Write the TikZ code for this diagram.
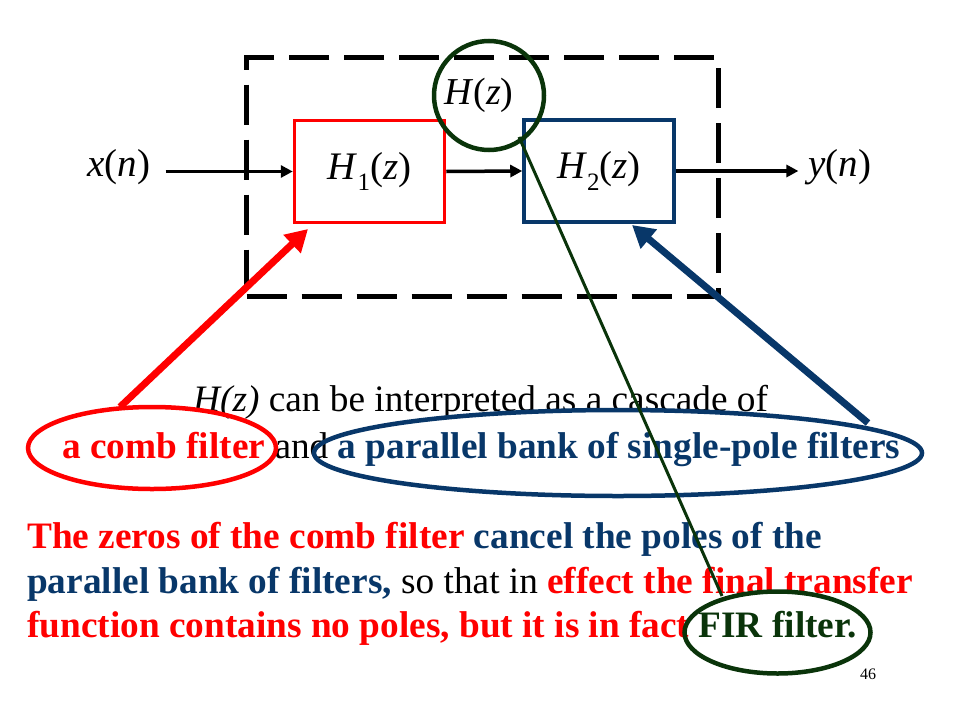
\documentclass[tikz,border=0pt]{standalone}
\usepackage{fontspec}
\setmainfont{Liberation Serif}
\usetikzlibrary{arrows.meta,shapes.geometric}
\definecolor{myred}{RGB}{255,0,0}
\definecolor{myblue}{RGB}{8,55,105}
\definecolor{mygreen}{RGB}{10,52,10}
\newcommand{\bigtxt}{\fontsize{37.3}{44.8}\selectfont}
\newcommand{\mathtxt}{\fontsize{39}{44}\selectfont}
\begin{document}
\begin{tikzpicture}[x=1pt,y=-1pt,
  txt/.style={inner sep=0pt, anchor=base west, font=\bigtxt},
  blockbox/.style={draw, line width=3.5pt, minimum width=150pt, minimum height=102pt, inner sep=0pt, font=\mathtxt},
  sigarr/.style={line width=3.5pt, -{Triangle[length=12pt,width=12pt]}},
  bigarr/.style={line width=7pt, -{Triangle[length=22pt,width=24pt]}},
  ring/.style={ellipse, draw, line width=4.5pt, inner sep=0pt}]
\useasboundingbox (0,0) rectangle (960,720);
% dashed enclosure
\node[draw, line width=5pt, dash pattern=on 40pt off 15pt, minimum width=471.5pt, minimum height=239.5pt, inner sep=0pt] (hbox) at (482.25,176.75) {};
% blocks
\node[blockbox, draw=myred] (h1) at (369.5,171.5) {\textit{H}\raisebox{-0.3em}{\fontsize{25}{25}\selectfont 1}(\textit{z})};
\node[blockbox, draw=myblue] (h2) at (599,171) {\textit{H}\raisebox{-0.3em}{\fontsize{25}{25}\selectfont 2}(\textit{z})};
\node[inner sep=0pt, font=\mathtxt] (xn) at (119,167) {\textit{x}(\textit{n})};
\node[inner sep=0pt, font=\mathtxt] (yn) at (840,167) {\textit{y}(\textit{n})};
\draw[sigarr] ([xshift=15pt]xn.east |- h1.west) -- (h1.west);
\draw[sigarr] (h1.east) -- (h2.west);
\draw[sigarr] (h2.east) -- ([xshift=-10pt]yn.west |- h2.east);
% H(z) ring
\node[ring, draw=mygreen, minimum width=110pt, minimum height=109pt] (hzring) at (489,95.5) {};
\node[inner sep=0pt, font=\fontsize{38}{42}\selectfont] (hz) at (479,95) {\textit{H}(\textit{z})};
% text
\node[txt] (l1) at (193,411) {\textit{H(z)} can be interpreted as a cascade of};
\node[txt] (l2) at (62,458) {\textbf{\textcolor{myred}{a comb filter}} and \textbf{\textcolor{myblue}{a parallel bank of single-pole filters}}};
\node[txt, font=\bigtxt\bfseries] (p1) at (27,548) {\textcolor{myred}{The zeros of the comb filter} \textcolor{myblue}{cancel the poles of the}};
\node[txt] (p2) at (27,593) {\textbf{\textcolor{myblue}{parallel bank of filters,}} so that in \textbf{\textcolor{myred}{effect the final transfer}}};
\node[txt, font=\bigtxt\bfseries] (p3) at (27,637) {\textcolor{myred}{function contains no poles, but it is in fact} \textcolor{mygreen}{FIR filter.}};
\node[inner sep=0pt, font=\fontsize{16}{18}\selectfont] (pg) at (868,674) {46};
% rings round text
\node[ring, draw=myred, minimum width=248pt, minimum height=82pt] (combring) at (152,448) {};
\node[ring, draw=myblue, minimum width=608pt, minimum height=86pt] (bankring) at (618,453) {};
\node[ring, draw=mygreen, minimum width=186pt, minimum height=82pt] (firring) at (777.5,632.5) {};
% pointers
\coordinate (redtail) at (120,407);
\coordinate (redtip) at (308,229);
\coordinate (bluetail) at (868,423);
\coordinate (bluetip) at (632,225);
\coordinate (greentop) at (519,137);
\coordinate (greenbot) at (722,596);
\draw[bigarr, myred] (redtail) -- (redtip);
\draw[bigarr, myblue] (bluetail) -- (bluetip);
\draw[mygreen, line width=3pt] (greentop) -- (greenbot);
\end{tikzpicture}
\end{document}
